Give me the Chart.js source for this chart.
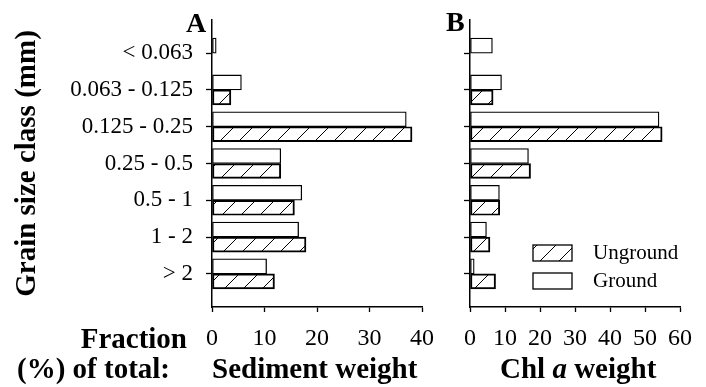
<!DOCTYPE html>
<html>
<head>
<meta charset="utf-8">
<title>Grain size fractions</title>
<script src="https://cdn.jsdelivr.net/npm/chart.js@4"></script>
<style>
  body { margin: 0; background: #fff; color: #000; font-family: 'Liberation Serif', 'Times New Roman', serif; }
  #wrap { position: relative; width: 706px; height: 387px; overflow: hidden; }
  canvas { position: absolute; top: 0; }
  #chartA { left: 0; }
  #chartB { left: 440px; }
  .lbl { position: absolute; font-weight: bold; font-size: 29px; line-height: 32px; white-space: nowrap; }
</style>
</head>
<body>
<div id="wrap">
  <canvas id="chartA" width="440" height="387"></canvas>
  <canvas id="chartB" width="266" height="387"></canvas>
  <div class="lbl" style="left:186px; top:7px; font-size:28px;">A</div>
  <div class="lbl" style="left:446px; top:6px; font-size:28px;">B</div>
  <div class="lbl" style="right:519px; top:322px;">Fraction</div>
  <div class="lbl" style="left:17px; top:352px;">(%) of total:</div>
  <div class="lbl" style="left:212px; top:352px;">Sediment weight</div>
  <div class="lbl" style="left:500px; top:352px;">Chl <i>a</i> weight</div>
</div>

<script>
// grain size classes, top to bottom
const categories = ['< 0.063', '0.063 - 0.125', '0.125 - 0.25', '0.25 - 0.5', '0.5 - 1', '1 - 2', '> 2'];

// panel A: sediment weight (% of total)
const sedimentGround   = [0.8, 5.6, 37.0, 13.1, 17.1, 16.5, 10.4];
const sedimentUnground = [0,   3.6, 38.1, 13.1, 15.7, 17.9, 11.9];

// panel B: Chl a weight (% of total)
const chlGround   = [6.4, 9.0, 54.0, 16.7, 8.4, 4.7, 1.2];
const chlUnground = [0,   6.6, 54.9, 17.3, 8.5, 5.7, 7.3];

const sedimentTicks = [0, 10, 20, 30, 40];
const chlTicks = [0, 10, 20, 30, 40, 50, 60];

Chart.defaults.font.family = "'Liberation Serif', 'Times New Roman', serif";
Chart.defaults.color = '#000';

// diagonal "/" hatch used for the unground bars
function makeHatch(ctx) {
    const s = 19;
    const c = document.createElement('canvas');
    c.width = s; c.height = s;
    const g = c.getContext('2d');
    g.strokeStyle = '#000';
    g.lineWidth = 1;
    g.beginPath();
    g.moveTo(0, s); g.lineTo(s, 0);
    g.moveTo(-2, 2); g.lineTo(2, -2);
    g.moveTo(s - 2, s + 2); g.lineTo(s + 2, s - 2);
    g.stroke();
    return ctx.createPattern(c, 'repeat');
}

function toPoints(values) {
    return values.map((v, i) => ({ x: v, y: i + 1 }));
}

function yScale(withLabels, width) {
    return {
        type: 'linear',
        reverse: true,
        bounds: 'data',
        offset: false,
        min: 0.1,
        max: 7.9,
        afterBuildTicks: s => { s.ticks = categories.map((c, i) => ({ value: i + 1 })); },
        afterFit: s => { s.width = width; s.paddingTop = 0; s.paddingBottom = 0; },
        grid: { offset: false, drawOnChartArea: false, tickLength: 6, tickColor: '#000', tickWidth: 1.3 },
        border: { color: '#000', width: 1.5 },
        ticks: {
            display: withLabels,
            padding: 13,
            font: { size: 23 },
            callback: v => categories[v - 1]
        },
        title: {
            display: withLabels,
            text: 'Grain size class (mm)',
            font: { size: 29, weight: 'bold' },
            padding: { top: 10, bottom: 0 }
        }
    };
}

function xScale(tickValues) {
    return {
        type: 'linear',
        bounds: 'data',
        min: tickValues[0],
        max: tickValues[tickValues.length - 1],
        afterBuildTicks: s => { s.ticks = tickValues.map(v => ({ value: v })); },
        afterFit: s => { s.height = 80; s.paddingLeft = 0; s.paddingRight = 0; },
        grid: { drawOnChartArea: false, tickLength: 5, tickColor: '#000', tickWidth: 1.3 },
        border: { color: '#000', width: 1.5 },
        ticks: { padding: 12, font: { size: 24 }, autoSkip: false, maxRotation: 0 }
    };
}

function makeChart(id, ground, unground, tickValues, withLabels, yWidth, padRight, plugins) {
    const ctx = document.getElementById(id).getContext('2d');
    const hatch = makeHatch(ctx);
    return new Chart(ctx, {
        type: 'bar',
        data: {
            datasets: [
                { label: 'Ground', data: toPoints(ground), backgroundColor: '#fff' },
                { label: 'Unground', data: toPoints(unground), backgroundColor: hatch }
            ]
        },
        options: {
            indexAxis: 'y',
            responsive: false,
            animation: false,
            layout: { padding: { top: 20, right: padRight, left: 0, bottom: 0 } },
            datasets: {
                bar: { barThickness: 15, borderWidth: 1.3, borderColor: '#000', borderSkipped: false }
            },
            scales: { x: xScale(tickValues), y: yScale(withLabels, yWidth) },
            plugins: { legend: { display: false }, tooltip: { enabled: false } }
        },
        plugins: plugins || []
    });
}

// boxed legend drawn inside panel B
const boxLegend = {
    id: 'boxLegend',
    afterDraw(chart) {
        const ctx = chart.ctx;
        const area = chart.chartArea;
        const items = [
            { label: 'Unground', fill: chart.data.datasets[1].backgroundColor },
            { label: 'Ground', fill: chart.data.datasets[0].backgroundColor }
        ];
        ctx.save();
        ctx.font = "21px 'Liberation Serif', 'Times New Roman', serif";
        ctx.textBaseline = 'middle';
        items.forEach((it, i) => {
            const bx = area.left + 63;
            const by = 245 + i * 28;
            ctx.fillStyle = it.fill;
            ctx.fillRect(bx, by, 39, 16);
            ctx.strokeStyle = '#000';
            ctx.lineWidth = 1.3;
            ctx.strokeRect(bx, by, 39, 16);
            ctx.fillStyle = '#000';
            ctx.fillText(it.label, bx + 60, by + 8);
        });
        ctx.restore();
    }
};

makeChart('chartA', sedimentGround, sedimentUnground, sedimentTicks, true, 212, 18);
makeChart('chartB', chlGround, chlUnground, chlTicks, false, 30, 26, [boxLegend]);
</script>
</body>
</html>
